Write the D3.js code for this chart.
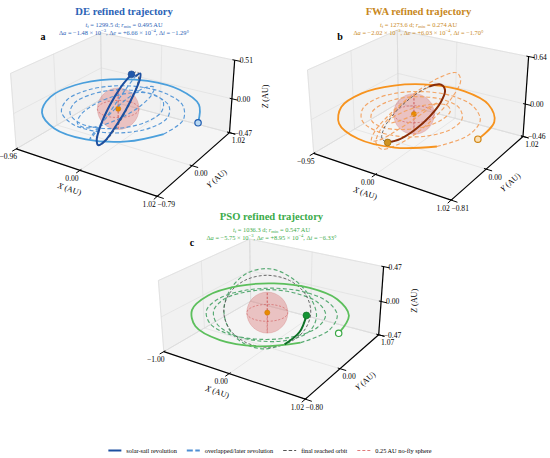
<!DOCTYPE html>
<html>
<head>
<meta charset="utf-8">
<script src="https://cdn.jsdelivr.net/npm/d3@7"></script>
<style>
  body { margin: 0; background: #fff; }
  svg { display: block; }
  text { font-family: "Liberation Serif", "DejaVu Serif", serif; }
</style>
</head>
<body>
<svg id="chart" width="550" height="458"></svg>
<script>
// ---- data ----
const panelNames = ['DE', 'FWA', 'PSO'];
const panelTags = ['a', 'b', 'c'];
const flightDays = ['1299.5', '1273.6', '1036.3'];
const minRadius = ['0.495', '0.274', '0.547'];
const deltaA = ['\u22121.48', '\u22122.02', '\u22125.75'];   // x 10^-3
const deltaE = ['+6.66', '+6.03', '+8.95'];                   // x 10^-4
const deltaI = ['\u22121.29', '\u22121.70', '\u22126.33'];   // deg

const xLimits = [[-0.96, 1.02], [-0.95, 1.02], [-1.00, 1.02]];
const yLimits = [[-0.79, 1.02], [-0.81, 1.02], [-0.80, 1.07]];
const zLimits = [[-0.47, 0.51], [-0.46, 0.64], [-0.47, 0.47]];

const noFlyRadius = 0.25;   // AU
const STEP = 30;            // deg of argument between samples

// DE: node -80 deg, first sample at argument 90 deg
const deNode = -80, deArg0 = 90;
const deSolidR = [1.00, 0.99, 0.98, 0.97, 0.955, 0.94, 0.925, 0.91, 0.895, 0.88, 0.865, 0.85];
const deDashR = [0.85, 0.82, 0.79, 0.76, 0.74, 0.72, 0.70, 0.69, 0.68, 0.67, 0.66, 0.65, 0.64,
  0.63, 0.62, 0.61, 0.60, 0.595, 0.59, 0.585, 0.58, 0.575, 0.57, 0.565, 0.56,
  0.555, 0.55, 0.545, 0.54, 0.535, 0.53, 0.525, 0.52, 0.515, 0.51, 0.505, 0.50,
  0.50, 0.50, 0.50, 0.50, 0.50, 0.50, 0.50, 0.50, 0.50, 0.50, 0.50, 0.50, 0.50];
const deDashInc = [0, 0, 0, 0, 0, 0, 0, 0, 0, 0, 0, 0, 0,
  0, 0, 0, 1, 1, 2, 2, 3, 3, 4, 4, 5,
  6, 8, 10, 12, 14, 16, 18, 20, 22, 24, 26, 28,
  31, 34, 37, 40, 43, 46, 49, 52, 55, 58, 60, 62, 64];
const deArcR = [0.50, 0.50, 0.50, 0.50, 0.50, 0.50, 0.50, 0.50, 0.50, 0.50, 0.50, 0.50, 0.50];
const deArcInc = [64, 65, 66, 67, 68, 68, 69, 69, 70, 70, 70, 70, 70];
const deTarget = [0.50, 70];   // radius AU, inclination deg

// FWA
const fwaNode = -100, fwaArg0 = 90;
const fwaSolidR = [1.00, 0.99, 0.985, 0.98, 0.97, 0.96, 0.95, 0.94, 0.93, 0.92, 0.91, 0.90];
const fwaDashR = [0.90, 0.86, 0.82, 0.78, 0.75, 0.72, 0.70, 0.68, 0.66, 0.65, 0.64, 0.63, 0.62,
  0.61, 0.60, 0.59, 0.58, 0.57, 0.56, 0.55, 0.54, 0.53, 0.52, 0.51, 0.50,
  0.48, 0.46, 0.44, 0.42, 0.40, 0.38, 0.36, 0.34, 0.32, 0.30, 0.285, 0.274,
  0.28, 0.30, 0.33, 0.37, 0.42, 0.47, 0.52, 0.57, 0.62, 0.66, 0.69, 0.71,
  0.73, 0.74, 0.74, 0.73, 0.71, 0.68, 0.65, 0.62, 0.59, 0.56, 0.53, 0.51, 0.50];
const fwaDashInc = [0, 0, 0, 0, 0, 0, 0, 0, 0, 0, 0, 0, 0,
  0, 0, 1, 1, 2, 2, 3, 4, 5, 6, 7, 8,
  10, 12, 14, 16, 18, 20, 22, 24, 26, 28, 30, 32,
  34, 36, 38, 40, 42, 44, 46, 48, 50, 52, 53, 54,
  55, 56, 57, 58, 58, 59, 59, 60, 60, 60, 60, 60, 60];
const fwaArcR = [0.50, 0.50, 0.50, 0.50, 0.50, 0.50, 0.50, 0.50];
const fwaArcInc = [60, 60, 60, 60, 60, 60, 60, 60];
const fwaTarget = [0.50, 60];

// PSO
const psoNode = 33, psoArg0 = -35;
const psoSolidR = [1.00, 0.99, 0.98, 0.97, 0.96, 0.95, 0.94, 0.93, 0.92, 0.91, 0.90, 0.89];
const psoDashR = [0.89, 0.87, 0.85, 0.83, 0.81, 0.79, 0.77, 0.76, 0.75, 0.74, 0.735, 0.73, 0.725,
  0.72, 0.71, 0.70, 0.69, 0.68, 0.67, 0.665, 0.66, 0.655, 0.65, 0.645, 0.64,
  0.62, 0.60, 0.58, 0.56, 0.55, 0.54, 0.53, 0.53, 0.52, 0.52, 0.52, 0.51];
const psoDashInc = [0, 0, 0, 0, 0, 0, 0, 0, 0, 0, 0, 0, 0,
  0, 0, 1, 1, 2, 2, 3, 3, 4, 5, 6, 8,
  12, 20, 30, 42, 55, 66, 75, 82, 88, 92, 94, 96];
const psoArcR = [0.51, 0.49, 0.48];
const psoArcInc = [96, 98, 100];
const psoTarget = [0.53, 100];

const legendLabels = ['solar-sail revolution', 'overlapped/later revolution',
  'final reached orbit', '0.25 AU no-fly sphere'];

// ---- styling / layout ----
const palettes = [
  { title: '#2b63b6', solid: '#4a9fdc', dash: '#4f93d6', dark: '#1c4fa0', startFill: '#b9d8f2', startEdge: '#1f5cb0', endFill: '#1f58ab', endEdge: '#17448a' },
  { title: '#c8881d', solid: '#f7931e', dash: '#f2a05e', dark: '#8a2c07', startFill: '#fbe0b5', startEdge: '#cf8512', endFill: '#cf9322', endEdge: '#8a5a00' },
  { title: '#3bab4a', solid: '#5cbf5c', dash: '#4ea56c', dark: '#0d7026', startFill: '#ffffff', startEdge: '#3aa845', endFill: '#149434', endEdge: '#0a6a20' }
];
const centres = [[125.5, 104.5], [421, 105], [274, 309]];
const titlePos = [[124, 15], [418.5, 15], [271.5, 220]];
const tagPos = [[43, 40], [340, 40], [192, 246]];
const showZTitle = [true, false, true];   // panel b's z title falls outside the figure

const ELEV = 24, AZIM = -57, CAM_DIST = 2.8, CAM_SCALE = 235.7;
const rad = Math.PI / 180;
const U = [-Math.sin(AZIM * rad), Math.cos(AZIM * rad), 0];
const V = [-Math.sin(ELEV * rad) * Math.cos(AZIM * rad), -Math.sin(ELEV * rad) * Math.sin(AZIM * rad), Math.cos(ELEV * rad)];
const Wv = [Math.cos(ELEV * rad) * Math.cos(AZIM * rad), Math.cos(ELEV * rad) * Math.sin(AZIM * rad), Math.sin(ELEV * rad)];
const dot = (a, b) => a[0] * b[0] + a[1] * b[1] + a[2] * b[2];

const svg = d3.select('#chart');
const fmt = v => (v < 0 ? '\u2212' : '') + Math.abs(v).toFixed(2);

function orbitPoint(r, inc, arg, node) {
  const th = arg * rad, i = inc * rad, O = node * rad;
  return [
    r * (Math.cos(th) * Math.cos(O) - Math.sin(th) * Math.cos(i) * Math.sin(O)),
    r * (Math.cos(th) * Math.sin(O) + Math.sin(th) * Math.cos(i) * Math.cos(O)),
    r * Math.sin(th) * Math.sin(i)
  ];
}

function track(rs, incs, k0, arg0, node) {
  return rs.map((r, j) => orbitPoint(r, incs ? incs[j] : 0, arg0 + STEP * (k0 + j), node));
}

function mathText(sel, parts) {
  let shift = 0;
  parts.forEach(([t, style]) => {
    const target = style === 'sub' ? 1.4 : style === 'sup' ? -2.4 : 0;
    sel.append('tspan')
      .attr('dy', target - shift)
      .attr('font-style', style === 'i' ? 'italic' : null)
      .attr('font-size', style === 'sub' || style === 'sup' ? '0.72em' : null)
      .text(t);
    shift = target;
  });
}

function drawPanel(idx, trajectory) {
  const pal = palettes[idx];
  const xl = xLimits[idx], yl = yLimits[idx], zl = zLimits[idx];
  const norm = Math.hypot(xl[1] - xl[0], yl[1] - yl[0], zl[1] - zl[0]);
  const half = l => (l[1] - l[0]) / (2 * norm);
  const sx = d3.scaleLinear().domain(xl).range([-half(xl), half(xl)]);
  const sy = d3.scaleLinear().domain(yl).range([-half(yl), half(yl)]);
  const sz = d3.scaleLinear().domain(zl).range([-half(zl), half(zl)]);
  const [cx, cy] = centres[idx];

  const persp = q => CAM_SCALE * CAM_DIST / (CAM_DIST - dot(Wv, q));
  const proj = ([x, y, z]) => {
    const q = [sx(x), sy(y), sz(z)];
    const f = persp(q);
    return [cx + f * dot(U, q), cy - f * dot(V, q)];
  };
  const straight = d3.line();
  const smooth = d3.line().curve(d3.curveCatmullRom.alpha(0.5));
  const closed = d3.line().curve(d3.curveCatmullRomClosed.alpha(0.5));

  const g = svg.append('g');
  const [x0, x1] = xl, [y0, y1] = yl, [z0, z1] = zl;
  const xt = [x0, 0, x1], yt = [y0, 0, y1], zt = [z0, 0, z1];

  // panes
  const panes = [
    [[x0, y0, z0], [x1, y0, z0], [x1, y1, z0], [x0, y1, z0]],
    [[x0, y0, z0], [x0, y1, z0], [x0, y1, z1], [x0, y0, z1]],
    [[x0, y1, z0], [x1, y1, z0], [x1, y1, z1], [x0, y1, z1]]
  ];
  g.selectAll('.pane').data(panes).join('path')
    .attr('d', d => straight(d.map(proj)) + 'Z')
    .attr('fill', (d, i) => i === 0 ? '#f5f5f5' : '#f1f1f1')
    .attr('stroke', '#e2e2e2').attr('stroke-width', 0.6);

  // grid
  const grid = [];
  xt.forEach(x => { grid.push([[x, y0, z0], [x, y1, z0]]); grid.push([[x, y1, z0], [x, y1, z1]]); });
  yt.forEach(y => { grid.push([[x0, y, z0], [x1, y, z0]]); grid.push([[x0, y, z0], [x0, y, z1]]); });
  zt.forEach(z => { grid.push([[x0, y0, z], [x0, y1, z]]); grid.push([[x0, y1, z], [x1, y1, z]]); });
  g.selectAll('.grid').data(grid).join('path')
    .attr('d', d => straight(d.map(proj)))
    .attr('fill', 'none').attr('stroke', '#dadada').attr('stroke-width', 0.55);

  // axes lines
  const axes = [
    [[x0, y0, z0], [x1, y0, z0]],
    [[x1, y0, z0], [x1, y1, z0]],
    [[x1, y1, z0], [x1, y1, z1]]
  ];
  g.selectAll('.axis').data(axes).join('path')
    .attr('d', d => straight(d.map(proj)))
    .attr('fill', 'none').attr('stroke', '#000').attr('stroke-width', 1.2);

  const dy = (y1 - y0), dx = (x1 - x0);
  const ticks = [];
  xt.forEach(x => ticks.push([[x, y0 + 0.015 * dy, z0], [x, y0 - 0.04 * dy, z0]]));
  yt.forEach(y => ticks.push([[x1 - 0.015 * dx, y, z0], [x1 + 0.04 * dx, y, z0]]));
  zt.forEach(z => ticks.push([[x1 - 0.015 * dx, y1, z], [x1 + 0.04 * dx, y1, z]]));
  g.selectAll('.tick').data(ticks).join('path')
    .attr('d', d => straight(d.map(proj)))
    .attr('stroke', '#000').attr('stroke-width', 1);

  const tickFont = 7.6;
  xt.forEach(x => {
    const p = proj([x, y0, z0]);
    g.append('text').attr('x', p[0] - 8).attr('y', p[1] + 10.5)
      .attr('text-anchor', 'middle').attr('font-size', tickFont).text(fmt(x));
  });
  yt.forEach(y => {
    const p = proj([x1, y, z0]);
    g.append('text').attr('x', p[0] + 9).attr('y', p[1] + 10.5)
      .attr('text-anchor', 'middle').attr('font-size', tickFont).text(fmt(y));
  });
  zt.forEach(z => {
    const p = proj([x1, y1, z]);
    g.append('text').attr('x', p[0] + 5).attr('y', p[1] + 3)
      .attr('font-size', tickFont).text(fmt(z));
  });

  // axis titles
  const axisTitle = (a, b, off, rot, letter) => {
    const pa = proj(a), pb = proj(b);
    const mx = (pa[0] + pb[0]) / 2 + off[0], my = (pa[1] + pb[1]) / 2 + off[1];
    const ang = rot !== null ? rot : Math.atan2(pb[1] - pa[1], pb[0] - pa[0]) / rad;
    const t = g.append('text').attr('text-anchor', 'middle').attr('font-size', 8.2)
      .attr('transform', `translate(${mx},${my}) rotate(${ang})`);
    t.append('tspan').attr('font-style', 'italic').text(letter);
    t.append('tspan').text(' (AU)');
  };
  axisTitle([x0, y0, z0], [x1, y0, z0], [-18, 19], null, 'X');
  axisTitle([x1, y0, z0], [x1, y1, z0], [25, 16], null, 'Y');
  if (showZTitle[idx]) axisTitle([x1, y1, z0], [x1, y1, z1], [36, 0], -90, 'Z');

  // no-fly sphere
  const sun = proj([0, 0, 0]);
  const rPx = persp([sx(0), sy(0), sz(0)]) * noFlyRadius / norm;
  g.append('circle').attr('cx', sun[0]).attr('cy', sun[1]).attr('r', rPx)
    .attr('fill', '#d66b6b').attr('fill-opacity', 0.37)
    .attr('stroke', '#c65a5a').attr('stroke-opacity', 0.4).attr('stroke-width', 0.6);
  const ang = d3.range(0, 360, 20);
  const hz = [Math.cos(AZIM * rad), Math.sin(AZIM * rad)];
  const rings = [
    ang.map(t => [noFlyRadius * Math.cos(t * rad), noFlyRadius * Math.sin(t * rad), 0]),
    ang.map(t => [noFlyRadius * Math.cos(t * rad) * hz[0], noFlyRadius * Math.cos(t * rad) * hz[1], noFlyRadius * Math.sin(t * rad)])
  ];
  g.selectAll('.ring').data(rings).join('path')
    .attr('d', d => closed(d.map(proj)))
    .attr('fill', 'none').attr('stroke', '#cc4b4b').attr('stroke-opacity', 0.75)
    .attr('stroke-width', 0.7).attr('stroke-dasharray', '2.2,1.6');

  g.append('circle').attr('cx', sun[0]).attr('cy', sun[1]).attr('r', 2.6)
    .attr('fill', '#e88a00').attr('stroke', '#c06d00').attr('stroke-width', 0.4);

  const tr = trajectory;
  const solid = track(tr.solidR, null, 0, tr.arg0, tr.node);
  const kDash = tr.solidR.length - 1;
  const dashed = track(tr.dashR, tr.dashInc, kDash, tr.arg0, tr.node);
  const kArc = kDash + tr.dashR.length - 1;
  const arc = track(tr.arcR, tr.arcInc, kArc, tr.arg0, tr.node);
  const target = d3.range(0, 360, STEP).map(t => orbitPoint(tr.target[0], tr.target[1], t, tr.node));

  g.append('path').attr('d', smooth(dashed.map(proj)))
    .attr('fill', 'none').attr('stroke', pal.dash).attr('stroke-width', 1.15)
    .attr('stroke-dasharray', '4,2.4').attr('stroke-opacity', 0.95);
  g.append('path').attr('d', closed(target.map(proj)))
    .attr('fill', 'none').attr('stroke', '#5a5a5a').attr('stroke-width', 1)
    .attr('stroke-dasharray', '3,2').attr('stroke-opacity', 0.9);
  g.append('path').attr('d', smooth(solid.map(proj)))
    .attr('fill', 'none').attr('stroke', pal.solid).attr('stroke-width', 1.8);
  g.append('path').attr('d', smooth(arc.map(proj)))
    .attr('fill', 'none').attr('stroke', pal.dark).attr('stroke-width', 2);

  const s0 = proj(solid[0]);
  g.append('circle').attr('cx', s0[0]).attr('cy', s0[1]).attr('r', 3.2)
    .attr('fill', pal.startFill).attr('stroke', pal.startEdge).attr('stroke-width', 1.2);
  const e0 = proj(arc[arc.length - 1]);
  g.append('circle').attr('cx', e0[0]).attr('cy', e0[1]).attr('r', 3.4)
    .attr('fill', pal.endFill).attr('stroke', pal.endEdge).attr('stroke-width', 0.6);

  // titles
  const [tx, ty] = titlePos[idx];
  g.append('text').attr('x', tx).attr('y', ty).attr('text-anchor', 'middle')
    .attr('font-size', 10.6).attr('font-weight', 'bold').attr('fill', pal.title)
    .text(panelNames[idx] + ' refined trajectory');
  const l1 = g.append('text').attr('x', tx).attr('y', ty + 11.5).attr('text-anchor', 'middle')
    .attr('font-size', 6.4).attr('fill', pal.title);
  mathText(l1, [['t', 'i'], ['f', 'sub'], [' = ' + flightDays[idx] + ' d; ', ''], ['r', 'i'], ['min', 'sub'], [' = ' + minRadius[idx] + ' AU', '']]);
  const l2 = g.append('text').attr('x', tx).attr('y', ty + 19.5).attr('text-anchor', 'middle')
    .attr('font-size', 6.4).attr('fill', pal.title);
  mathText(l2, [['\u0394', ''], ['a', 'i'], [' = ' + deltaA[idx] + ' \u00d7 10', ''], ['\u22123', 'sup'],
    [', \u0394', ''], ['e', 'i'], [' = ' + deltaE[idx] + ' \u00d7 10', ''], ['\u22124', 'sup'],
    [', \u0394', ''], ['i', 'i'], [' = ' + deltaI[idx] + '\u00b0', '']]);

  g.append('text').attr('x', tagPos[idx][0]).attr('y', tagPos[idx][1])
    .attr('text-anchor', 'middle').attr('font-size', 10).attr('font-weight', 'bold')
    .text(panelTags[idx]);
}

drawPanel(0, { node: deNode, arg0: deArg0, solidR: deSolidR, dashR: deDashR, dashInc: deDashInc, arcR: deArcR, arcInc: deArcInc, target: deTarget });
drawPanel(1, { node: fwaNode, arg0: fwaArg0, solidR: fwaSolidR, dashR: fwaDashR, dashInc: fwaDashInc, arcR: fwaArcR, arcInc: fwaArcInc, target: fwaTarget });
drawPanel(2, { node: psoNode, arg0: psoArg0, solidR: psoSolidR, dashR: psoDashR, dashInc: psoDashInc, arcR: psoArcR, arcInc: psoArcInc, target: psoTarget });

// legend
const legendStyles = [
  { stroke: '#1c4fa0', dash: null, w: 2 },
  { stroke: '#4f8fd4', dash: '6,2.5', w: 1.8 },
  { stroke: '#555555', dash: '3.5,2', w: 1.1 },
  { stroke: '#e07a7a', dash: '3,2', w: 1.1 }
];
const leg = svg.append('g');
const legY = 450.5;
let lx = 0;
legendLabels.forEach((lab, i) => {
  const it = leg.append('g');
  it.append('line').attr('x1', 0).attr('x2', 13).attr('y1', 0).attr('y2', 0)
    .attr('stroke', legendStyles[i].stroke).attr('stroke-width', legendStyles[i].w)
    .attr('stroke-dasharray', legendStyles[i].dash);
  const t = it.append('text').attr('x', 18).attr('y', 2.1).attr('font-size', 6.3).text(lab);
  const w = 18 + t.node().getComputedTextLength();
  it.attr('transform', `translate(${lx},${legY})`);
  lx += w + 10;
});
const total = lx - 10;
leg.attr('transform', `translate(${270 - total / 2},0)`);
</script>
</body>
</html>
